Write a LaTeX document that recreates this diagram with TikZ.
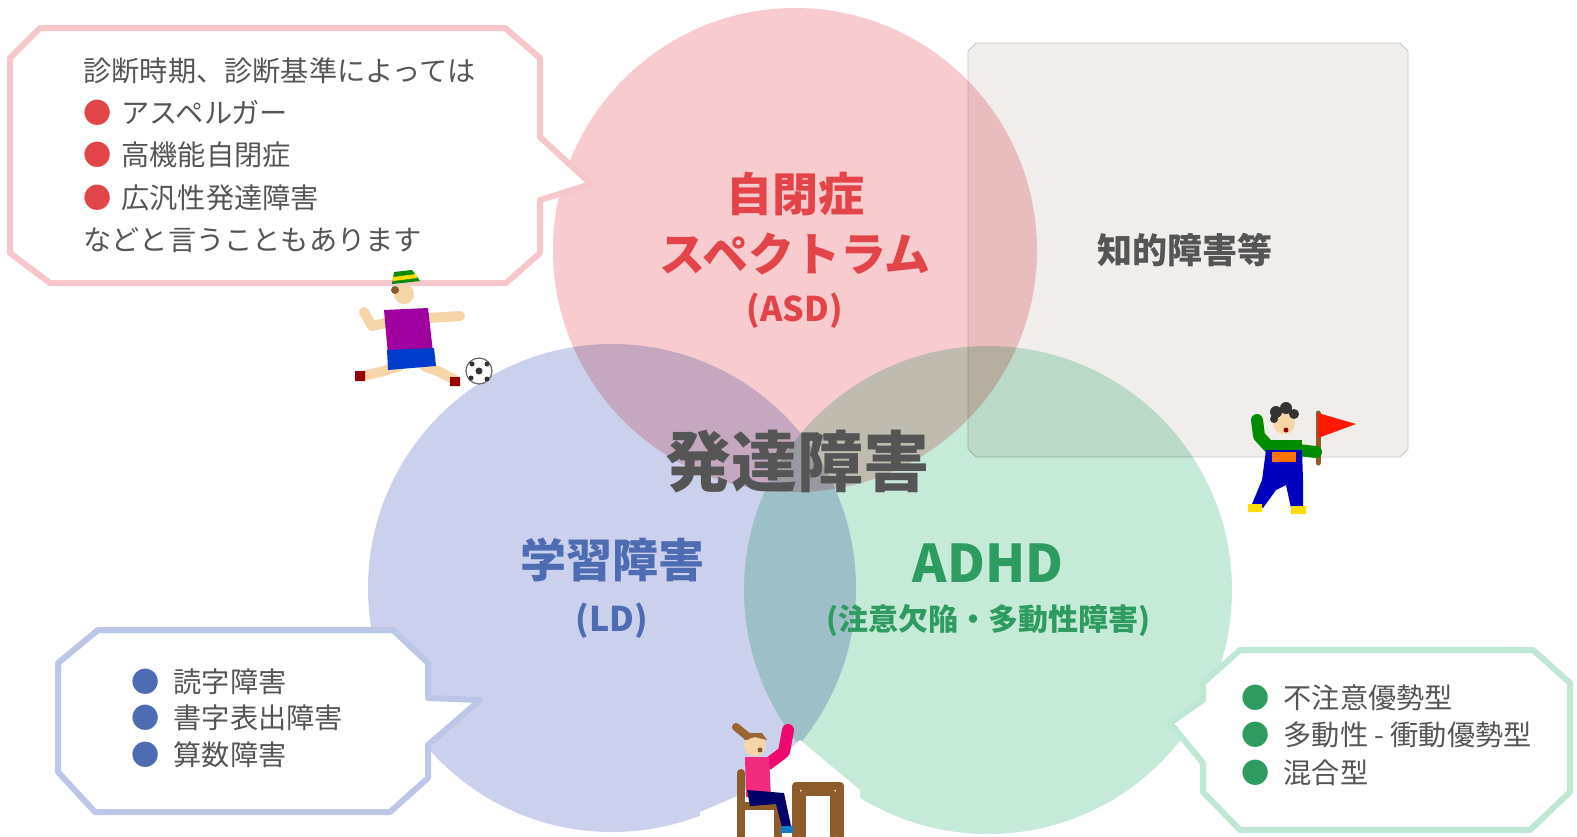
\documentclass[tikz,border=0pt]{standalone}
\usepackage{fontspec}
\newfontfamily\jp{Noto Sans CJK JP}

\definecolor{asdpink}{RGB}{248,204,207}
\definecolor{ldblue}{RGB}{203,209,236}
\definecolor{adhdgreen}{RGB}{198,234,216}
\definecolor{iqgray}{RGB}{240,237,234}
\definecolor{asdred}{RGB}{226,68,74}
\definecolor{ldtext}{RGB}{78,108,178}
\definecolor{adhdtext}{RGB}{46,156,96}
\definecolor{inktext}{RGB}{85,85,85}
\definecolor{asdline}{RGB}{245,198,202}
\definecolor{ldline}{RGB}{188,198,230}
\definecolor{adhdline}{RGB}{190,231,212}
\definecolor{skin}{RGB}{246,214,168}
\definecolor{wood}{RGB}{142,92,42}

\begin{document}
\begin{tikzpicture}[x=0.5pt, y=-0.5pt, font=\jp,
    venn/.style={circle, inner sep=0pt, minimum size=#1},
    bubble/.style={fill=white, line width=3pt, line join=round, draw=#1},
    title/.style={align=center, text=#1, font=\jp\bfseries\fontsize{23}{30}\selectfont},
    note/.style={anchor=west, align=left, inner sep=0pt, text=inktext, font=\jp\fontsize{14.1}{#1}\selectfont},
    limb/.style={line width=#1, line cap=round, line join=round}]

\useasboundingbox (0,0) rectangle (1577,836);

% intellectual disability box
\filldraw[fill=iqgray, draw=black!22, line width=0.4pt]
  (976,43) -- (1400,43) -- (1408,51) -- (1408,449) -- (1400,457)
  -- (976,457) -- (968,449) -- (968,51) -- cycle;

% the three sets
\begin{scope}[blend mode=multiply]
\node[venn=242pt, fill=asdpink] (asd) at (795,250) {};
\node[venn=244pt, fill=ldblue] (ld) at (612,588) {};
\node[venn=244pt, fill=adhdgreen] (adhd) at (988,590) {};
\end{scope}

% white ground under the desk
\fill[white] (700,812) -- (740,795) -- (800,740) -- (860,790) -- (860,836) -- (700,836) -- cycle;

% speech bubbles
\draw[bubble=asdline] (40,28) -- (505,28) -- (540,58) -- (540,137) -- (591,184) -- (540,200)
  -- (540,253) -- (506,283) -- (50,283) -- (10,253) -- (10,58) -- cycle;
\draw[bubble=ldline] (98,630) -- (393,630) -- (428,663) -- (428,698) -- (480,700) -- (428,745)
  -- (428,778) -- (390,812) -- (95,812) -- (58,772) -- (58,663) -- cycle;
\draw[bubble=adhdline] (1240,650) -- (1533,650) -- (1570,683) -- (1570,792) -- (1530,830)
  -- (1240,830) -- (1203,792) -- (1203,763) -- (1170,723) -- (1203,700) -- (1203,683) -- cycle;

% labels
\node[title=asdred] (asdlabel) at (asd) {自閉症\\スペクトラム\\[-5pt]{\fontsize{17}{20}\selectfont (ASD)}};
\node[title=ldtext] (ldlabel) at (ld) {学習障害\\[-3pt]{\fontsize{17}{20}\selectfont (LD)}};
\node[title=adhdtext, font=\jp\bfseries\fontsize{26}{30}\selectfont] (adhdlabel) at (adhd)
  {ADHD\\[-6pt]{\fontsize{15}{20}\selectfont (注意欠陥・多動性障害)}};
\node[text=inktext, font=\jp\bfseries\fontsize{33}{36}\selectfont] (dd) at (797,462) {発達障害};
\node[text=inktext, font=\jp\bfseries\fontsize{17.5}{20}\selectfont] (iq) at (1185,250) {知的障害等};

\node[note=21.2] (asdnote) at (83,155) {診断時期、診断基準によっては\\
  \textcolor{asdred}{●}\hspace{0.35em}アスペルガー\\
  \textcolor{asdred}{●}\hspace{0.35em}高機能自閉症\\
  \textcolor{asdred}{●}\hspace{0.35em}広汎性発達障害\\
  などと言うこともあります};
\node[note=18.3] (ldnote) at (131,718) {\textcolor{ldtext}{●}\hspace{0.5em}読字障害\\
  \textcolor{ldtext}{●}\hspace{0.5em}書字表出障害\\
  \textcolor{ldtext}{●}\hspace{0.5em}算数障害};
\node[note=18.7] (adhdnote) at (1241,735) {\textcolor{adhdtext}{●}\hspace{0.5em}不注意優勢型\\
  \textcolor{adhdtext}{●}\hspace{0.5em}多動性 - 衝動優勢型\\
  \textcolor{adhdtext}{●}\hspace{0.5em}混合型};

% boy kicking a ball
\draw[limb=5pt, skin] (390,322) -- (372,326) -- (364,312);
\draw[limb=5pt, skin] (428,318) -- (460,316);
\draw[limb=5pt, skin] (400,366) -- (380,372) -- (362,376);
\draw[limb=5pt, skin] (424,366) -- (440,372) -- (455,380);
\fill[red!60!black] (355,371) rectangle (365,381) (450,377) rectangle (460,386);
\fill[violet!75!magenta] (384,310) -- (428,308) -- (433,352) -- (388,355) -- cycle;
\fill[blue!70!cyan!80!black] (387,350) -- (434,348) -- (436,366) -- (388,370) -- cycle;
\fill[skin] (404,294) circle (10);
\fill[brown!70!black] (395,290) circle (4);
\fill[green!55!black] (392,284) -- (394,272) -- (412,270) -- (420,281) -- cycle;
\fill[yellow!80!orange] (393,277) -- (416,274) -- (417,278) -- (393,281) -- cycle;
\filldraw[fill=white, draw=black!60, line width=0.6pt] (479,371) circle (13);
\fill[black!80] (479,371) circle (3.5) (472,364) circle (2.5) (487,364) circle (2.5)
  (471,378) circle (2.5) (487,379) circle (2.5);

% boy with a flag
\draw[limb=2.5pt, wood] (1318,463) -- (1318,413);
\fill[red!80!orange] (1318,413) -- (1356,424) -- (1318,438) -- cycle;
\draw[limb=6pt, green!55!black] (1270,448) -- (1259,436) -- (1257,420);
\draw[limb=6pt, green!55!black] (1298,450) -- (1316,452);
\fill[green!55!black] (1266,440) rectangle (1302,456);
\fill[blue!75!black] (1266,450) -- (1302,450) -- (1303,480) -- (1303,508) -- (1291,508)
  -- (1286,485) -- (1276,490) -- (1263,508) -- (1252,504) -- (1262,480) -- cycle;
\fill[orange!90!red] (1272,452) rectangle (1296,462);
\fill[yellow!80!orange] (1248,504) rectangle (1262,512) (1291,506) rectangle (1306,514);
\fill[skin] (1284,423) circle (11);
\fill[black!80] (1276,412) circle (6) (1286,408) circle (6) (1294,414) circle (5) (1274,419) circle (4);
\fill[red!60!black] (1286,430) circle (2.5);

% girl at her desk
\draw[limb=4pt, wood] (741,773) -- (741,836) (741,806) -- (778,806) -- (778,836);
\draw[limb=4pt, wood] (796,836) -- (796,786) -- (840,786) -- (840,836);
\draw[limb=3pt, wood] (803,836) -- (803,793) -- (833,793) -- (833,836);
\draw[limb=6pt, magenta!70!red] (768,764) -- (784,752) -- (788,730);
\fill[magenta!70!red!85] (745,757) -- (769,757) -- (771,797) -- (746,797) -- cycle;
\fill[blue!40!black] (747,790) -- (784,793) -- (791,826) -- (782,827) -- (776,804) -- (750,806) -- cycle;
\fill[cyan!60!blue] (781,826) rectangle (793,833);
\fill[skin] (755,745) circle (11);
\fill[brown!80!black] (744,740) -- (750,733) -- (762,733) -- (767,740) -- (755,737) -- cycle;
\draw[limb=4pt, brown!80!black] (747,736) -- (736,727);
\fill[brown!70!black] (760,750) circle (2.5);
\end{tikzpicture}
\end{document}
